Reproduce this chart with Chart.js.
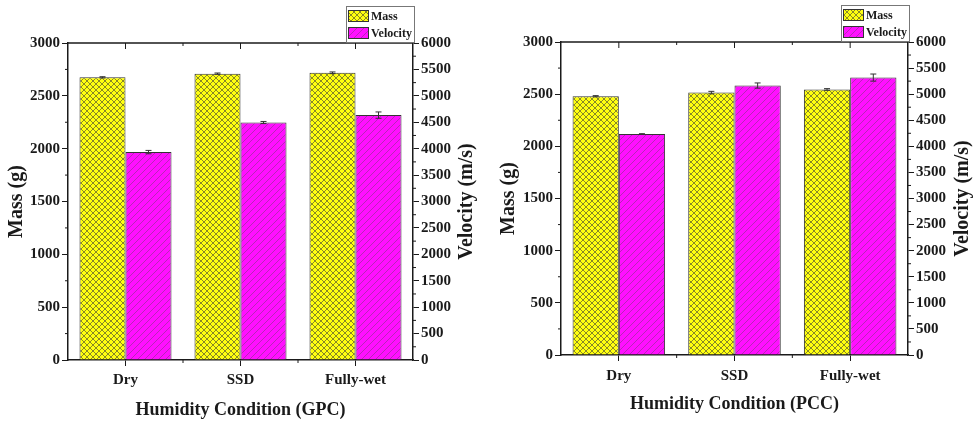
<!DOCTYPE html>
<html>
<head>
<meta charset="utf-8">
<title>Mass and pulse velocity by humidity condition</title>
<script src="https://cdn.jsdelivr.net/npm/chart.js@4.4.1/dist/chart.umd.min.js"></script>
<style>
  html, body { margin: 0; padding: 0; background: #fff; }
  .wrap { display: flex; width: 974px; height: 424px; }
  canvas { display: block; }
</style>
</head>
<body>
<div class="wrap">
  <canvas id="gpc-chart" width="487" height="424"></canvas>
  <canvas id="pcc-chart" width="487" height="424"></canvas>
</div>
<script>
const categories = ['Dry', 'SSD', 'Fully-wet'];

// GPC: mass (g) and velocity (m/s), with error bars
const gpcMass = [2675, 2710, 2718];
const gpcMassErr = [6, 6, 8];
const gpcVelocity = [3935, 4495, 4635];
const gpcVelocityErr = [32, 20, 60];

// PCC
const pccMass = [2480, 2515, 2545];
const pccMassErr = [6, 12, 8];
const pccVelocity = [4235, 5165, 5318];
const pccVelocityErr = [8, 50, 68];

// axis ranges: min, max, step
const massAxis = [0, 3000, 500];
const velocityAxis = [0, 6000, 500];

const FONT = 'Liberation Serif';
const INK = '#1a1a1a';

function hatch(ctx, bg, line, size, width, cross) {
    const c = document.createElement('canvas');
    c.width = size;
    c.height = size;
    const g = c.getContext('2d');
    g.fillStyle = bg;
    g.fillRect(0, 0, size, size);
    g.strokeStyle = line;
    g.lineWidth = width;
    g.beginPath();
    g.moveTo(-1, size + 1); g.lineTo(size + 1, -1);
    g.moveTo(-1, 1); g.lineTo(1, -1);
    g.moveTo(size - 1, size + 1); g.lineTo(size + 1, size - 1);
    if (cross) {
        g.moveTo(-1, -1); g.lineTo(size + 1, size + 1);
        g.moveTo(size - 1, -1); g.lineTo(size + 1, 1);
        g.moveTo(-1, size - 1); g.lineTo(1, size + 1);
    }
    g.stroke();
    return ctx.createPattern(c, 'repeat');
}

// top frame line, mirrored/minor ticks, right axis title
const framePlugin = {
    id: 'frame',
    afterDraw(chart, args, opts) {
        const { ctx, chartArea: a, scales } = chart;
        ctx.save();
        ctx.strokeStyle = INK;
        ctx.lineWidth = 1.5;
        ctx.beginPath();
        ctx.moveTo(a.left, a.top);
        ctx.lineTo(a.right, a.top);
        ctx.stroke();

        ctx.lineWidth = 1;
        ctx.beginPath();
        const x = scales.x;
        categories.forEach((c, i) => {
            const px = x.getPixelForValue(i);
            ctx.moveTo(px, a.top);
            ctx.lineTo(px, a.top + 6);
            if (i > 0) {
                const bx = (x.getPixelForValue(i - 1) + px) / 2;
                ctx.moveTo(bx, a.top);
                ctx.lineTo(bx, a.top + 3);
                ctx.moveTo(bx, a.bottom);
                ctx.lineTo(bx, a.bottom + 3);
            }
        });
        ['y', 'y1'].forEach(id => {
            const s = scales[id];
            const step = s.options.ticks.stepSize;
            for (let v = s.min + step / 2; v < s.max; v += step) {
                const py = s.getPixelForValue(v);
                if (id === 'y') {
                    ctx.moveTo(a.left - 3, py);
                    ctx.lineTo(a.left, py);
                } else {
                    ctx.moveTo(a.right, py);
                    ctx.lineTo(a.right + 3, py);
                }
            }
        });
        ctx.stroke();

        // right title reads bottom-to-top like the left one
        ctx.translate(chart.width - opts.rightTitleOffset, (a.top + a.bottom) / 2);
        ctx.rotate(-Math.PI / 2);
        ctx.fillStyle = INK;
        ctx.font = 'bold 20px "' + FONT + '"';
        ctx.textAlign = 'center';
        ctx.textBaseline = 'middle';
        ctx.fillText(opts.rightTitle, 0, 0);
        ctx.restore();
    }
};

const errorBarPlugin = {
    id: 'errorBars',
    afterDatasetsDraw(chart) {
        const ctx = chart.ctx;
        ctx.save();
        ctx.strokeStyle = '#333';
        ctx.lineWidth = 1;
        chart.data.datasets.forEach((ds, di) => {
            const meta = chart.getDatasetMeta(di);
            const scale = chart.scales[ds.yAxisID];
            meta.data.forEach((bar, i) => {
                const v = ds.data[i];
                const e = ds.errors[i];
                const top = scale.getPixelForValue(v + e);
                const bot = scale.getPixelForValue(v - e);
                ctx.beginPath();
                ctx.moveTo(bar.x, top); ctx.lineTo(bar.x, bot);
                ctx.moveTo(bar.x - 3, top); ctx.lineTo(bar.x + 3, top);
                ctx.moveTo(bar.x - 3, bot); ctx.lineTo(bar.x + 3, bot);
                ctx.stroke();
            });
        });
        ctx.restore();
    }
};

const legendBoxPlugin = {
    id: 'legendBox',
    afterDraw(chart, args, opts) {
        const ctx = chart.ctx;
        const a = chart.chartArea;
        const w = 68, h = 36;
        const x = a.right + 1 - w;
        const y = opts.top;
        ctx.save();
        ctx.fillStyle = '#fff';
        ctx.fillRect(x, y, w, h);
        ctx.strokeStyle = '#777';
        ctx.lineWidth = 1;
        ctx.strokeRect(x + 0.5, y + 0.5, w, h);
        chart.data.datasets.forEach((ds, i) => {
            const ry = y + 4 + i * 17;
            ctx.fillStyle = ds.backgroundColor;
            ctx.fillRect(x + 2, ry, 21, 12);
            ctx.strokeStyle = '#333';
            ctx.strokeRect(x + 2.5, ry + 0.5, 20, 11);
            ctx.fillStyle = INK;
            ctx.font = 'bold 12px "' + FONT + '"';
            ctx.textBaseline = 'middle';
            ctx.fillText(ds.label, x + 25, ry + 6.5);
        });
        ctx.restore();
    }
};

function makeChart(id, group, mass, massErr, velocity, velocityErr, L) {
    const canvas = document.getElementById(id);
    const ctx = canvas.getContext('2d');
    const tickFont = { family: FONT, weight: 'bold', size: 15 };
    const plain = v => String(v);

    return new Chart(ctx, {
        type: 'bar',
        data: {
            labels: categories,
            datasets: [{
                label: 'Mass',
                data: mass,
                errors: massErr,
                yAxisID: 'y',
                backgroundColor: hatch(ctx, '#ffff10', '#555530', 6, 0.7, true),
                borderColor: '#333',
                borderWidth: 1,
                categoryPercentage: 0.8,
                barPercentage: 1
            }, {
                label: 'Velocity',
                data: velocity,
                errors: velocityErr,
                yAxisID: 'y1',
                backgroundColor: hatch(ctx, '#ff10ff', '#9a309a', 7, 0.7, false),
                borderColor: '#333',
                borderWidth: 1,
                categoryPercentage: 0.8,
                barPercentage: 1
            }]
        },
        options: {
            responsive: false,
            animation: false,
            layout: { padding: { top: L.top, left: 0, right: 0, bottom: 0 } },
            plugins: {
                legend: { display: false },
                tooltip: { enabled: false },
                frame: { rightTitle: 'Velocity (m/s)', rightTitleOffset: L.rightTitleOffset },
                legendBox: { top: L.legendTop }
            },
            scales: {
                x: {
                    offset: true,
                    grid: { offset: false, drawOnChartArea: false, tickLength: 6, tickColor: INK, tickWidth: 1 },
                    border: { color: INK, width: 1.5 },
                    ticks: { font: tickFont, color: INK, padding: L.xTickPad },
                    title: {
                        display: true,
                        text: 'Humidity Condition (' + group + ')',
                        font: { family: FONT, weight: 'bold', size: 18 },
                        color: INK,
                        padding: { top: 0, bottom: L.xTitlePad }
                    },
                    afterFit(s) {
                        s.height = L.xHeight;
                        s.paddingLeft = 0;
                        s.paddingRight = 0;
                    }
                },
                y: {
                    position: 'left',
                    min: massAxis[0],
                    max: massAxis[1],
                    grid: { drawOnChartArea: false, tickLength: 6, tickColor: INK, tickWidth: 1 },
                    border: { color: INK, width: 1.5 },
                    ticks: { stepSize: massAxis[2], font: tickFont, color: INK, padding: 2, callback: plain },
                    title: {
                        display: true,
                        text: 'Mass (g)',
                        font: { family: FONT, weight: 'bold', size: 20 },
                        color: INK,
                        padding: { top: L.yTitlePad, bottom: 0 }
                    },
                    afterFit(s) {
                        s.width = L.yWidth;
                        s.paddingTop = 0;
                        s.paddingBottom = 0;
                    }
                },
                y1: {
                    position: 'right',
                    min: velocityAxis[0],
                    max: velocityAxis[1],
                    grid: { drawOnChartArea: false, tickLength: 6, tickColor: INK, tickWidth: 1 },
                    border: { color: INK, width: 1.5 },
                    ticks: { stepSize: velocityAxis[2], font: tickFont, color: INK, padding: 2, callback: plain },
                    afterFit(s) {
                        s.width = L.y1Width;
                        s.paddingTop = 0;
                        s.paddingBottom = 0;
                    }
                }
            }
        },
        plugins: [errorBarPlugin, framePlugin, legendBoxPlugin]
    });
}

makeChart('gpc-chart', 'GPC', gpcMass, gpcMassErr, gpcVelocity, gpcVelocityErr, {
    top: 43, legendTop: 6, yWidth: 68, y1Width: 74, xHeight: 64,
    yTitlePad: 5, rightTitleOffset: 20, xTickPad: 5, xTitlePad: 3
});

makeChart('pcc-chart', 'PCC', pccMass, pccMassErr, pccVelocity, pccVelocityErr, {
    top: 42, legendTop: 5, yWidth: 74, y1Width: 66, xHeight: 69,
    yTitlePad: 10, rightTitleOffset: 11, xTickPad: 6, xTitlePad: 9
});
</script>
</body>
</html>
